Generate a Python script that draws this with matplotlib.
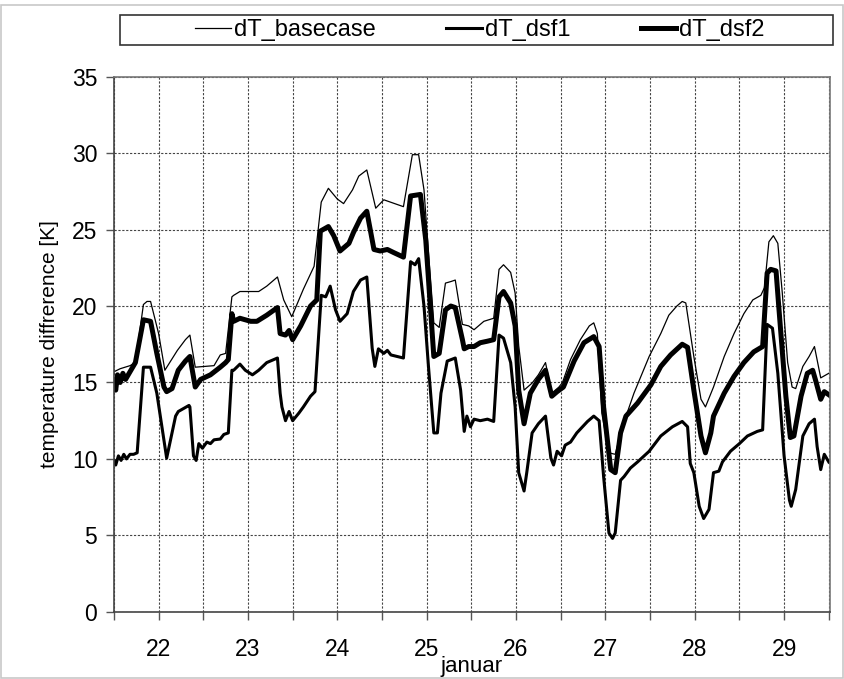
import numpy as np
import matplotlib.pyplot as plt
from matplotlib.patches import Rectangle
from matplotlib.ticker import FixedLocator, FuncFormatter

plt.rcParams['font.family'] = ['Liberation Sans', 'DejaVu Sans']

# time in days of january, value in K
base_t = [21.50, 21.57, 21.68, 21.74, 21.83, 21.87, 21.91, 22.00, 22.07, 22.21, 22.30, 22.35, 22.41, 22.62, 22.69, 22.75, 22.82,
          22.84, 22.91, 23.12, 23.21, 23.33, 23.40, 23.49, 23.62, 23.74, 23.82, 23.90, 24.00, 24.07, 24.17,
          24.24, 24.33, 24.43, 24.52, 24.74, 24.84, 24.91, 24.97, 25.02, 25.08, 25.14, 25.21, 25.27, 25.32, 25.40, 25.47,
          25.53, 25.64, 25.75, 25.81, 25.86, 25.94, 25.99, 26.03, 26.09, 26.18, 26.25, 26.33, 26.40, 26.48, 26.52, 26.61, 26.72, 26.82,
          26.87, 26.91, 26.96, 27.04, 27.11, 27.19, 27.32, 27.49, 27.62, 27.71, 27.80, 27.86, 27.90, 27.99, 28.07, 28.12, 28.21,
          28.33, 28.44, 28.55, 28.65, 28.74, 28.78, 28.83, 28.88, 28.93, 28.98, 29.04, 29.09, 29.13, 29.21, 29.28, 29.34, 29.41, 29.47, 29.50]
base_v = [15.7, 15.9, 16.1, 16.3, 20.1, 20.3, 20.3, 18.2, 15.8, 17.1, 17.8, 18.1, 16.0, 16.1, 16.8, 16.9, 20.6,
          20.7, 20.95, 20.95, 21.3, 21.9, 20.4, 19.3, 21.1, 22.6, 26.8, 27.7, 27.0, 26.7, 27.6,
          28.5, 28.9, 26.4, 26.95, 26.5, 29.9, 29.9, 27.6, 23.5, 18.9, 18.6, 21.5, 21.6, 21.7, 18.8, 18.7,
          18.45, 19.0, 19.2, 22.4, 22.7, 22.2, 20.85, 17.4, 14.5, 14.96, 15.5, 16.3, 14.3, 14.7, 15.0, 16.5, 17.8, 18.7,
          18.9, 18.2, 13.0, 10.4, 10.3, 12.1, 14.3, 16.7, 18.2, 19.4, 20.0, 20.3, 20.2, 16.7, 13.9, 13.4, 14.7,
          16.7, 18.2, 19.5, 20.4, 20.7, 21.2, 24.2, 24.6, 24.1, 20.85, 16.3, 14.7, 14.6, 16.05, 16.7, 17.35, 15.3, 15.5, 15.6]

dsf1_t = [21.50, 21.52, 21.55, 21.58, 21.61, 21.64, 21.68, 21.72, 21.76, 21.83, 21.91, 21.98, 22.09, 22.19, 22.22, 22.34, 22.35,
          22.39, 22.42, 22.45, 22.49, 22.54, 22.58, 22.62, 22.69, 22.73, 22.78, 22.82,
          22.84, 22.91, 22.97, 23.05, 23.12, 23.21, 23.33, 23.36, 23.38, 23.42, 23.46, 23.50, 23.57, 23.62, 23.70, 23.75,
          23.82, 23.87, 23.92, 23.98, 24.03, 24.11, 24.18,
          24.26, 24.33, 24.39, 24.42, 24.46, 24.52, 24.56, 24.60, 24.67, 24.74, 24.82, 24.87, 24.91, 24.97, 25.02, 25.08,
          25.12, 25.16, 25.23, 25.32, 25.38, 25.42, 25.45, 25.49, 25.53,
          25.60, 25.68, 25.75, 25.81, 25.86, 25.94, 25.99, 26.03, 26.09, 26.12, 26.18, 26.25, 26.33, 26.39, 26.42, 26.46,
          26.51, 26.55, 26.61, 26.68, 26.80, 26.87,
          26.93, 26.98, 27.04, 27.08, 27.11, 27.17, 27.21, 27.28, 27.36, 27.49, 27.62, 27.75, 27.86, 27.92, 27.95, 27.99,
          28.05, 28.10, 28.16, 28.21,
          28.27, 28.31, 28.40, 28.50, 28.59, 28.70, 28.76, 28.81, 28.87, 28.93, 29.00, 29.06, 29.08, 29.13, 29.21, 29.28,
          29.34, 29.37, 29.41, 29.45, 29.50]
dsf1_v = [9.9, 9.6, 10.2, 9.9, 10.3, 10.0, 10.3, 10.3, 10.4, 16.0, 16.0, 14.3, 10.05, 12.8, 13.1, 13.5, 13.4,
          10.2, 9.9, 11.0, 10.7, 11.1, 11.0, 11.25, 11.3, 11.6, 11.7, 15.8,
          15.8, 16.2, 15.8, 15.5, 15.8, 16.3, 16.6, 14.3, 13.4, 12.5, 13.1, 12.5, 13.0, 13.4, 14.1, 14.4,
          20.7, 20.6, 21.3, 19.75, 19.0, 19.5, 20.95,
          21.7, 21.9, 17.25, 16.05, 17.2, 16.9, 17.1, 16.8, 16.7, 16.6, 22.9, 22.7, 23.1, 20.0, 16.05, 11.7,
          11.7, 14.3, 16.4, 16.6, 14.5, 11.8, 12.8, 12.1, 12.6,
          12.5, 12.6, 12.45, 18.1, 17.9, 16.3, 13.4, 9.1, 7.9, 9.1, 11.7, 12.3, 12.8, 10.05, 9.6, 10.5,
          10.2, 10.9, 11.1, 11.7, 12.45, 12.8,
          12.5, 8.85, 5.15, 4.8, 5.15, 8.6, 8.85, 9.4, 9.8, 10.5, 11.5, 12.1, 12.45, 12.1, 9.7, 9.1,
          6.9, 6.1, 6.7, 9.1,
          9.2, 9.8, 10.5, 11.0, 11.5, 11.8, 11.9, 18.8, 18.55, 15.6, 10.2, 7.3, 6.9, 8.0, 11.5, 12.3,
          12.6, 10.8, 9.3, 10.3, 9.8]

dsf2_t = [21.50, 21.52, 21.54, 21.57, 21.60, 21.63, 21.68, 21.74, 21.83, 21.91, 21.98, 22.06, 22.09, 22.15, 22.22, 22.30,
          22.35, 22.41, 22.47, 22.58, 22.69, 22.75, 22.78, 22.82,
          22.84, 22.91, 23.03, 23.10, 23.21, 23.33, 23.36, 23.42, 23.46, 23.50, 23.59, 23.70, 23.77, 23.81, 23.90, 23.96,
          24.03, 24.13, 24.18,
          24.26, 24.33, 24.41, 24.48, 24.56, 24.63, 24.74, 24.82, 24.93, 24.99, 25.08, 25.14, 25.21, 25.27, 25.32, 25.40,
          25.42, 25.47,
          25.53, 25.60, 25.68, 25.75, 25.81, 25.86, 25.94, 25.99, 26.03, 26.09, 26.16, 26.25, 26.33, 26.40, 26.46, 26.53,
          26.65, 26.76, 26.87,
          26.93, 26.98, 27.06, 27.11, 27.17, 27.23, 27.36, 27.51, 27.62, 27.73, 27.86, 27.92, 27.99, 28.07, 28.12, 28.18, 28.21,
          28.33, 28.44, 28.55, 28.66, 28.76, 28.81, 28.85, 28.91, 28.94, 29.02, 29.07, 29.11, 29.19, 29.26, 29.32, 29.35,
          29.41, 29.45, 29.50]
dsf2_v = [15.0, 14.5, 15.5, 15.0, 15.6, 15.2, 15.7, 16.3, 19.1, 19.0, 16.9, 14.7, 14.4, 14.6, 15.8, 16.4,
          16.7, 14.7, 15.2, 15.5, 16.0, 16.3, 16.5, 19.5,
          19.0, 19.2, 19.0, 19.0, 19.4, 19.9, 18.2, 18.1, 18.4, 17.8, 18.7, 20.0, 20.4, 24.9, 25.2, 24.6,
          23.6, 24.1, 24.8,
          25.75, 26.2, 23.7, 23.6, 23.7, 23.5, 23.2, 27.2, 27.3, 24.3, 16.7, 16.9, 19.75, 20.0, 19.9, 17.8,
          17.2, 17.35,
          17.35, 17.6, 17.7, 17.8, 20.6, 20.95, 20.2, 18.7, 14.5, 12.3, 14.3, 15.2, 15.8, 14.1, 14.4, 14.7,
          16.4, 17.6, 18.0,
          17.35, 13.4, 9.3, 9.1, 11.7, 12.8, 13.65, 14.85, 16.05, 16.8, 17.5, 17.3, 14.5, 11.5, 10.4, 11.7, 12.8,
          14.3, 15.4, 16.3, 17.0, 17.35, 22.15, 22.4, 22.3, 20.0, 14.1, 11.4, 11.5, 14.1, 15.6, 15.8, 15.2,
          13.9, 14.4, 14.2]

day_ticks = np.arange(21.5, 29.51, 0.5)

fig = plt.figure(figsize=(8.44, 6.79), dpi=100)
ax = fig.add_axes([0.135, 0.099, 0.848, 0.788])

l1, = ax.plot(base_t, base_v, color='black', lw=0.9)
l2, = ax.plot(dsf1_t, dsf1_v, color='black', lw=2.2)
l3, = ax.plot(dsf2_t, dsf2_v, color='black', lw=3.6)

ax.set_xlim(21.5, 29.51)
ax.set_ylim(0, 35)
ax.set_yticks(np.arange(0, 36, 5))
ax.xaxis.set_major_locator(FixedLocator(day_ticks))
ax.xaxis.set_major_formatter(FuncFormatter(lambda x, p: '%d' % x if abs(x - round(x)) < 0.01 else ''))
ax.grid(True, color='#444444', linestyle=(0, (2, 1.5)), lw=0.8)
ax.tick_params(direction='out', length=6, width=1, color='#555555', labelsize=16.5, pad=6)
ax.tick_params(axis='x', pad=13)
for s in ax.spines.values():
    s.set_color('#777777')
    s.set_linewidth(1.2)
ax.spines['left'].set_color('#444444')
ax.spines['bottom'].set_color('#444444')

ax.set_ylabel('temperature diffrerence [K]', fontsize=15, labelpad=9)
ax.set_xlabel('januar', fontsize=16, labelpad=-4)

leg = fig.legend([l1, l2, l3], ['dT_basecase', 'dT_dsf1', 'dT_dsf2'], ncol=3, loc='center',
                 bbox_to_anchor=(480 / 844, 1 - 30 / 679), frameon=False, fontsize=17,
                 handlelength=1.5, handletextpad=0.12, columnspacing=3.0)
fig.patches.append(Rectangle((120 / 844, 1 - 45 / 679), 713 / 844, 30 / 679, transform=fig.transFigure,
                             fill=False, edgecolor='#333333', lw=1.2))
fig.patches.append(Rectangle((0.001, 0.001), 0.998, 1 - 6 / 679, transform=fig.transFigure,
                             fill=False, edgecolor='#c8c8c8', lw=1.2))

fig.savefig('out.png', dpi=100)
